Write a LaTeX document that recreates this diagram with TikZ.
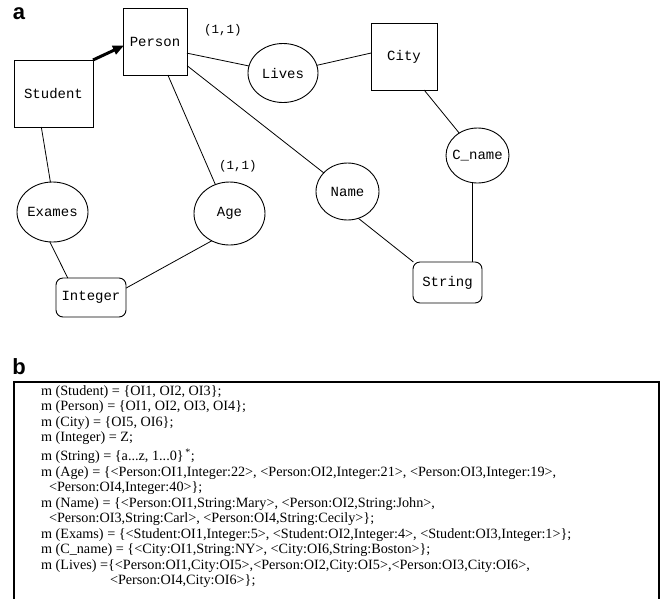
\documentclass[tikz,border=0pt]{standalone}
\usepackage{fontspec}
\setmainfont{Liberation Serif}
\setsansfont{Liberation Sans}
\setmonofont{Liberation Mono}
\usetikzlibrary{arrows.meta,shapes.geometric}

\begin{document}
\begin{tikzpicture}[x=1pt,y=-1pt,
  every node/.style={inner sep=0pt, outer sep=0pt},
  erfont/.style={font=\ttfamily\fontsize{14}{14}\selectfont},
  entity/.style={erfont, draw, line width=0.9pt},
  relation/.style={erfont, draw, ellipse, line width=0.9pt},
  valuetype/.style={erfont, draw, rounded corners=7pt, line width=0.9pt},
  link/.style={line width=0.8pt},
  isa/.style={line width=3pt, -{Triangle[length=11pt,width=9pt]}, shorten >=-1pt},
  card/.style={font=\ttfamily\fontsize{12.5}{12.5}\selectfont},
  panel/.style={font=\sffamily\bfseries\fontsize{22}{22}\selectfont},
  listing/.style={font=\rmfamily\fontsize{14.2}{15}\selectfont, anchor=west},
]
\useasboundingbox (0,0) rectangle (664,598);

% ---------- (a) schema ----------
\node[panel] (pa) at (19,14) {a};

\node[entity, minimum width=64, minimum height=67] (Person)  at (155,41.5) {Person};
\node[entity, minimum width=79, minimum height=67] (Student) at (53.5,93.5) {Student};
\node[entity, minimum width=66, minimum height=67] (City)    at (404,56.5) {City};

\node[relation, minimum width=70, minimum height=59] (Lives)  at (283,73)      {\makebox[0pt]{Lives}};
\node[relation, minimum width=63, minimum height=55] (Cname)  at (477.5,155.5) {\makebox[0pt]{C\_name}};
\node[relation, minimum width=63, minimum height=57] (Name)   at (347.5,191.5) {\makebox[0pt]{Name}};
\node[relation, minimum width=71, minimum height=63] (Age)    at (229.5,213.5) {\makebox[0pt]{Age}};
\node[relation, minimum width=71, minimum height=60] (Exames) at (52.5,212)    {\makebox[0pt]{Exames}};

\node[valuetype, minimum width=70, minimum height=39] (Integer) at (91,297.5)    {Integer};
\node[valuetype, minimum width=69, minimum height=41] (String)  at (447.5,282.5) {String};

\node[card] (c1) at (223,30)  {(1,1)};
\node[card] (c2) at (238,166) {(1,1)};

% generalisation
\draw[isa] (Student.north east) -- (Person.-172);

% attribute and relationship edges
\draw[link] (Person.-20)  -- (Lives);
\draw[link] (Lives)       -- (City.174);
\draw[link] (City.-59)    -- (Cname);
\draw[link] (Cname.-100)  -- (Cname.-100 |- String.north);
\draw[link] (Person.-37)  -- (Name);
\draw[link] (Name.-68)    -- (String.149);
\draw[link] (Person.-69)  -- (Age.116);
\draw[link] (Age.-123)    -- (Integer.15);
\draw[link] (Student.-110) -- (Exames.94);
\draw[link] (Exames.-95)  -- (Integer.140);

% ---------- (b) interpretation ----------
\node[panel] (pb) at (19,367) {b};
\coordinate (fbl) at (14,599);
\coordinate (ftl) at (14,382);
\coordinate (ftr) at (659,382);
\coordinate (fbr) at (659,599);
\draw[line width=1.3pt] (fbl) -- (ftl) -- (ftr) -- (fbr);

\node[listing] (l1)  at (41,392)   {m (Student) = \{OI1, OI2, OI3\};};
\node[listing] (l2)  at (41,407.5) {m (Person) = \{OI1, OI2, OI3, OI4\};};
\node[listing] (l3)  at (41,423)   {m (City) = \{OI5, OI6\};};
\node[listing] (l4)  at (41,438.5) {m (Integer) = Z;};
\node[listing] (l5)  at (41,456.5) {m (String) = \{a...z, 1...0\}\textsuperscript{\,*};};
\node[listing] (l6)  at (41,473)   {m (Age) = \{<Person:OI1,Integer:22>, <Person:OI2,Integer:21>, <Person:OI3,Integer:19>,};
\node[listing] (l7)  at (49,488.5) {<Person:OI4,Integer:40>\};};
\node[listing] (l8)  at (41,504)   {m (Name) = \{<Person:OI1,String:Mary>, <Person:OI2,String:John>,};
\node[listing] (l9)  at (49,519.5) {<Person:OI3,String:Carl>, <Person:OI4,String:Cecily>\};};
\node[listing] (l10) at (41,535)   {m (Exams) = \{<Student:OI1,Integer:5>, <Student:OI2,Integer:4>, <Student:OI3,Integer:1>\};};
\node[listing] (l11) at (41,550.5) {m (C\_name) = \{<City:OI1,String:NY>, <City:OI6,String:Boston>\};};
\node[listing] (l12) at (41,566)   {m (Lives) =\{<Person:OI1,City:OI5>,<Person:OI2,City:OI5>,<Person:OI3,City:OI6>,};
\node[listing] (l13) at (110,581.5) {<Person:OI4,City:OI6>\};};
\end{tikzpicture}
\end{document}
